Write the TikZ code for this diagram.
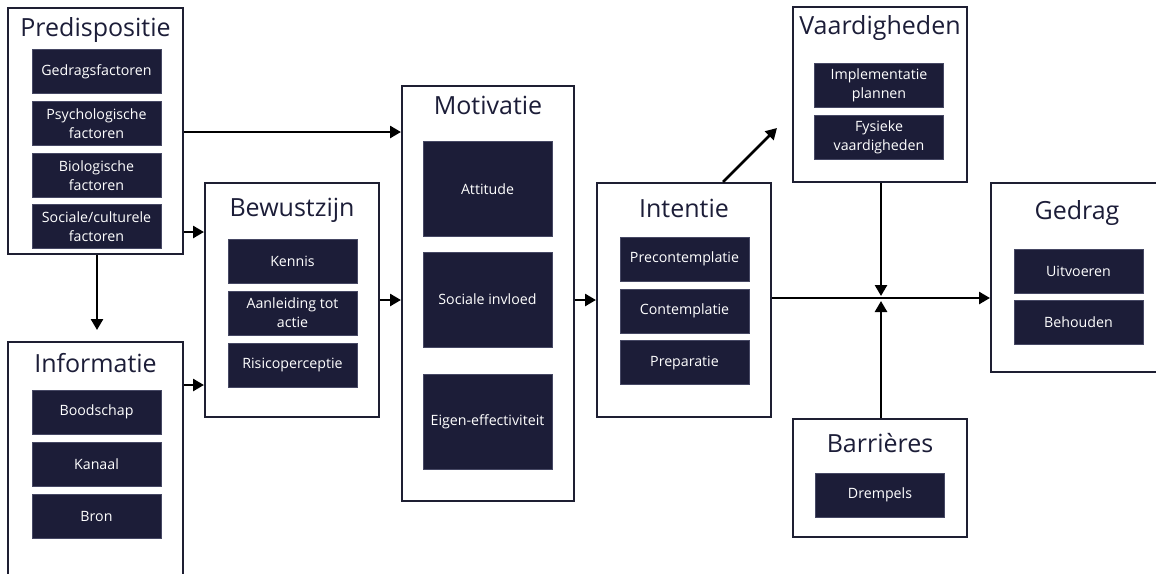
\documentclass[tikz,border=0pt]{standalone}
\usepackage{fontspec}
\setmainfont{Open Sans}
\usetikzlibrary{arrows.meta,calc}
\definecolor{navy}{RGB}{28,29,56}
\definecolor{navyedge}{RGB}{70,72,100}
\definecolor{framec}{RGB}{30,31,50}
\tikzset{
  frame/.style={draw=framec,line width=2pt,fill=white,inner sep=0pt},
  ttl/.style={text=navy,font=\fontsize{25}{28}\selectfont,inner sep=0pt},
  item/.style={fill=navy,draw=navyedge,line width=0.6pt,text=white,
    font=\fontsize{14.2}{19}\selectfont,align=center,
    minimum width=129pt,minimum height=44pt,inner sep=1pt},
  bigitem/.style={item,minimum height=95pt},
  arr/.style={draw=black,line width=2.6pt,-{Triangle[length=11pt,width=12pt]}},
  ln/.style={draw=black,line width=2.6pt}
}
\begin{document}
\begin{tikzpicture}[x=1pt,y=-1pt]
\useasboundingbox (0,0) rectangle (1156,573);
\fill[white] (0,0) rectangle (1156,573);
\clip (0,0) rectangle (1156,573);

% Predispositie
\node[frame,minimum width=175pt,minimum height=246pt] (pre) at (95.5,131) {};
\node[ttl] (preT) at (95.5,30) {Predispositie};
\node[item] (gf) at (96.5,71.5) {Gedragsfactoren};
\node[item] (psy) at (96.5,123.5) {Psychologische\\factoren};
\node[item] (bio) at (96.5,175.5) {Biologische\\factoren};
\node[item] (soc) at (96.5,226.5) {Sociale/culturele\\factoren};

% Informatie
\node[frame,minimum width=175pt,minimum height=260pt] (info) at (95.5,472) {};
\node[ttl] (infoT) at (95.5,363) {Informatie};
\node[item] (bood) at (96.5,412) {Boodschap};
\node[item] (kan) at (96.5,464) {Kanaal};
\node[item] (bron) at (96.5,516) {Bron};

% Bewustzijn
\node[frame,minimum width=174pt,minimum height=234pt] (bew) at (292,300) {};
\node[ttl] (bewT) at (292,210) {Bewustzijn};
\node[item] (ken) at (292.5,261) {Kennis};
\node[item] (aan) at (292.5,313) {Aanleiding tot\\actie};
\node[item] (ris) at (292.5,365) {Risicoperceptie};

% Motivatie
\node[frame,minimum width=172pt,minimum height=415pt] (mot) at (488,293.5) {};
\node[ttl] (motT) at (488,105) {Motivatie};
\node[bigitem] (att) at (487.5,189) {Attitude};
\node[bigitem] (sinv) at (487.5,299.5) {Sociale invloed};
\node[bigitem] (eig) at (487.5,421.5) {Eigen-effectiviteit};

% Intentie
\node[frame,minimum width=174pt,minimum height=234pt] (int) at (684,300) {};
\node[ttl] (intT) at (684,208) {Intentie};
\node[item] (prec) at (684.5,259) {Precontemplatie};
\node[item] (cont) at (684.5,311) {Contemplatie};
\node[item] (prep) at (684.5,362.5) {Preparatie};

% Vaardigheden
\node[frame,minimum width=174pt,minimum height=175pt] (vaar) at (880,94.5) {};
\node[ttl] (vaarT) at (880,28) {Vaardigheden};
\node[item] (impl) at (879,85) {Implementatie\\plannen};
\node[item] (fys) at (879,137) {Fysieke\\vaardigheden};

% Gedrag
\node[frame,minimum width=174pt,minimum height=189pt] (ged) at (1078,277.5) {};
\node[ttl] (gedT) at (1077,213) {Gedrag};
\node[item] (uit) at (1078.5,271) {Uitvoeren};
\node[item] (beh) at (1078.5,322.5) {Behouden};

% Barrieres
\node[frame,minimum width=174pt,minimum height=118pt] (bar) at (880,478) {};
\node[ttl] (barT) at (880,443) {Barrières};
\node[item] (drem) at (880,495) {Drempels};

% connectors
\coordinate (vtip) at (777,128);
\coordinate (j) at (881,298);
\draw[arr] (pre.east |- 0,132) -- (mot.west |- 0,132);
\draw[arr] (pre.east |- 0,232) -- (bew.west |- 0,232);
\draw[arr] (pre.south -| 97,0) -- (97,330);
\draw[arr] (info.east |- 0,385) -- (bew.west |- 0,385);
\draw[arr] (bew.east) -- (mot.west |- bew.east);
\draw[arr] (mot.east |- int.west) -- (int.west);
\draw[arr] ([xshift=39pt]int.north) -- (vtip);
\draw[arr] (int.east |- j) -- (ged.west |- j);
\draw[arr] (vaar.south -| j) -- ([yshift=2pt]j);
\draw[arr] (bar.north -| j) -- ([yshift=-3pt]j);
\end{tikzpicture}
\end{document}
